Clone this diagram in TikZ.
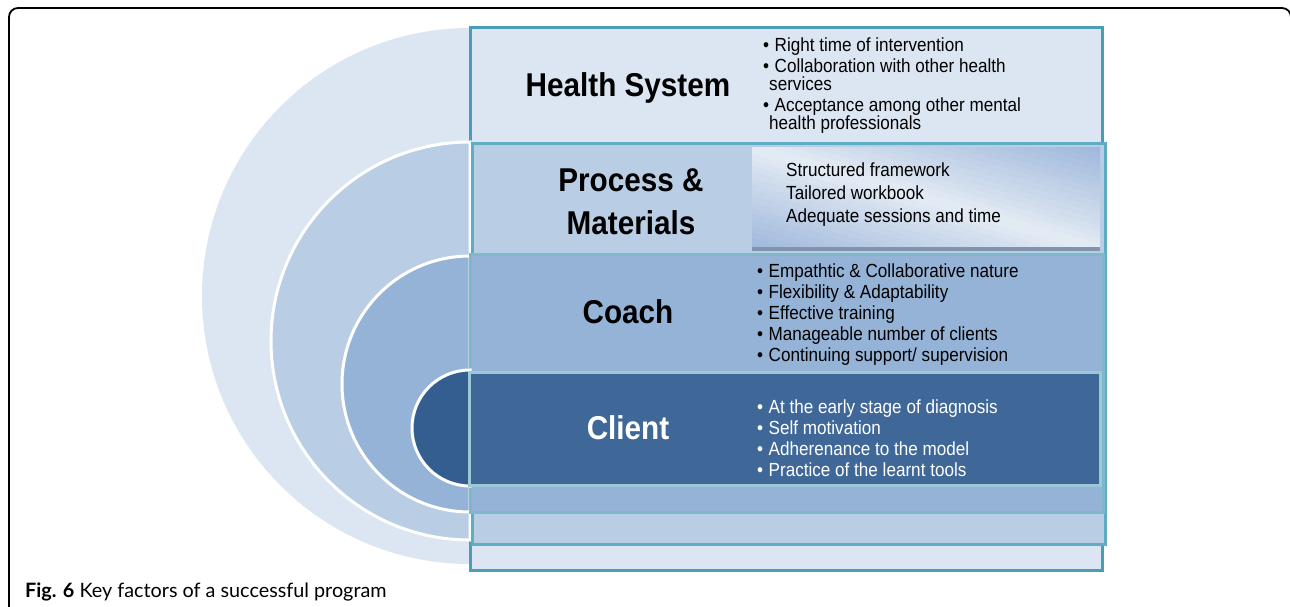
\documentclass[tikz,border=0pt]{standalone}
\usepackage{fontspec}
\setmainfont{Liberation Sans}
\newfontfamily\diagfont[FakeStretch=0.9]{Liberation Sans}
\newfontfamily\capfont{Lato}
\usetikzlibrary{calc}
\usetikzlibrary{positioning}
\definecolor{healthfill}{HTML}{DCE6F2}
\definecolor{processfill}{HTML}{B9CDE5}
\definecolor{coachfill}{HTML}{95B3D7}
\definecolor{clientfill}{HTML}{3F6898}
\definecolor{clientdisk}{HTML}{345E8F}
\definecolor{healthline}{HTML}{4A9DB5}
\definecolor{processline}{HTML}{60ACC3}
\definecolor{coachline}{HTML}{7DB8CB}
\definecolor{clientline}{HTML}{9CC8D7}
\definecolor{glossdark}{HTML}{93AFD7}
\definecolor{glosslight}{HTML}{E4EBF4}
\definecolor{glossshadow}{HTML}{8094AE}
\tikzstyle{layerbox} = [line width=3pt]
\tikzstyle{ring} = [draw=white, line width=3pt]
\tikzstyle{titlenode} = [font=\diagfont\fontsize{33}{43}\selectfont\bfseries, align=center, inner sep=0pt]
\tikzstyle{listnode} = [font=\diagfont\fontsize{19}{21}\selectfont, align=left, anchor=base west, inner sep=0pt]
\newcommand{\bitem}{\makebox[11.5pt][l]{\textbullet}}

\begin{document}
\begin{tikzpicture}[x=1pt, y=-1pt]
\useasboundingbox (0,0) rectangle (1290,607);
\fill[white] (0,0) rectangle (1290,607);
\draw[line width=1.8pt, rounded corners=9pt] (9,640) -- (9,8) -- (1291,8) -- (1291,640);

% outer layer: health system
\fill[healthfill] (470,28) arc[start angle=270, end angle=90, radius=268] -- cycle;
\filldraw[healthfill, draw=healthline, layerbox] (470,28) rectangle (1102,570);

% process and materials
\filldraw[processfill, ring] (470,142) arc[start angle=270, end angle=90, radius=199] -- cycle;
\filldraw[processfill, draw=processline, layerbox] (472,144) rectangle (1105,544);
% glossy panel, light along the diagonal
\begin{scope}
\clip (752,148) rectangle (1100,247);
\foreach \v in {-120,-114,...,114} {
  \pgfmathsetmacro\t{max(0,100-abs(\v+3)*0.85)}
  \fill[glosslight!\t!glossdark] (750,147.4+\v) -- (1102,250.6+\v) -- (1102,257.1+\v) -- (750,153.9+\v) -- cycle;
}
\end{scope}
\fill[glossshadow] (752,247) rectangle (1100,251);

% coach
\filldraw[coachfill, ring] (470,256) arc[start angle=270, end angle=90, radius=128] -- cycle;
\filldraw[coachfill, draw=coachline, layerbox] (470,254) rectangle (1103,512);

% client
\filldraw[clientdisk, ring] (470,370) arc[start angle=270, end angle=90, radius=58] -- cycle;
\filldraw[clientfill, draw=clientline, layerbox] (469,372) rectangle (1100,485);

\node[titlenode] (health_title) at (628,88) {Health System};
\node[titlenode] (process_title) at (631,202) {Process \&\\Materials};
\node[titlenode] (coach_title) at (628,312) {Coach};
\node[titlenode, text=white] (client_title) at (628,428) {Client};

% lists (base anchor sits on the last line)
\node[listnode] (health_list) at (763,130) {\bitem Right time of intervention\\
  \bitem Collaboration with other health\\[-3pt]
  \hspace*{6pt}services\\
  \bitem Acceptance among other mental\\[-3pt]
  \hspace*{6pt}health professionals};
\node[listnode] (process_list) at (786,222) {Structured framework\\[2pt]
  Tailored workbook\\[2pt]
  Adequate sessions and time};
\node[listnode] (coach_list) at (757,361) {\bitem Empathtic \& Collaborative nature\\
  \bitem Flexibility \& Adaptability\\
  \bitem Effective training\\
  \bitem Manageable number of clients\\
  \bitem Continuing support/ supervision};
\node[listnode, text=white] (client_list) at (757,476) {\bitem At the early stage of diagnosis\\
  \bitem Self motivation\\
  \bitem Adherenance to the model\\
  \bitem Practice of the learnt tools};

\node[font=\capfont\fontsize{19.8}{22}\selectfont, anchor=base west, inner sep=0pt] (caption) at (25,597)
  {\textbf{Fig. 6} Key factors of a successful program};
\end{tikzpicture}
\end{document}
